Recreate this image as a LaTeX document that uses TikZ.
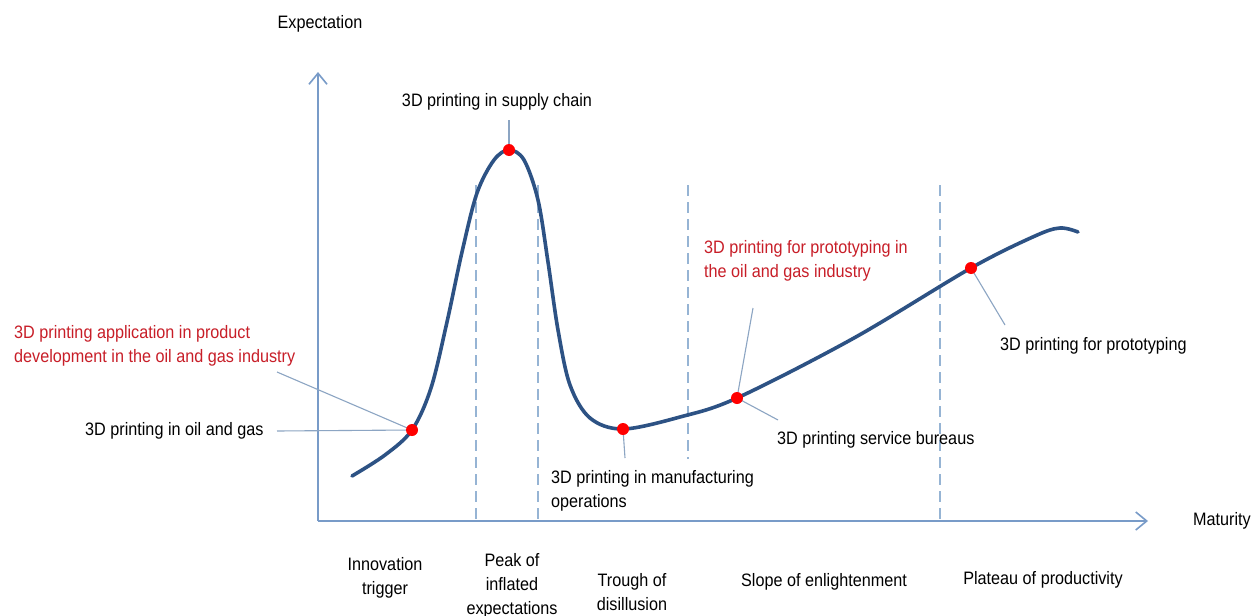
\documentclass[tikz,border=0pt]{standalone}
\usepackage{fontspec}
\setmainfont{Liberation Sans}[FakeStretch=0.9]
\usetikzlibrary{arrows.meta}
\definecolor{axisblue}{RGB}{120,155,200}
\definecolor{dashblue}{RGB}{150,180,212}
\definecolor{curveblue}{RGB}{45,82,132}
\definecolor{leadgray}{RGB}{140,165,195}
\definecolor{labelred}{RGB}{200,30,40}
\definecolor{dotred}{RGB}{255,0,0}
\begin{document}
\begin{tikzpicture}[x=1pt,y=-1pt,
  axisline/.style={draw=axisblue,line width=1.8pt,-{Straight Barb[length=11pt,width=18pt,line width=1.6pt]}},
  phaseline/.style={draw=dashblue,line width=1.6pt,dash pattern=on 11pt off 6pt},
  curveline/.style={draw=curveblue,line width=3.6pt,line cap=round},
  leader/.style={draw=leadgray,line width=1.1pt},
  dotmark/.style={circle,fill=dotred,inner sep=0pt,minimum size=12pt},
  lbl/.style={font=\fontsize{18}{24}\selectfont,text=black,inner sep=0pt},
  redlbl/.style={lbl,text=labelred}]
\useasboundingbox (0,0) rectangle (1251,616);
\fill[white] (0,0) rectangle (1251,616);

% phase separators
\draw[phaseline] (476,185) -- (476,521);
\draw[phaseline] (538,185) -- (538,521);
\draw[phaseline] (688,185) -- (688,459);
\draw[phaseline] (940,185) -- (940,521);

% axes
\coordinate (origin) at (318,521);
\coordinate (ytip) at (318,72);
\coordinate (xtip) at (1148,521);
\draw[axisline] (origin) -- (ytip);
\draw[axisline] (origin) -- (xtip);

% curve points
\coordinate (p1) at (412,430);
\coordinate (p2) at (509,150);
\coordinate (p3) at (623,429);
\coordinate (p4) at (737,398);
\coordinate (p5) at (971,268);

\draw[curveline] plot[smooth,tension=0.55] coordinates {
 (352,476) (385,455) (p1) (431,388) (447,322) (462,252) (477,193) (494,160) (p2)
 (524,160) (538,200) (548,262) (558,330) (570,385) (590,418) (p3)
 (680,417) (p4) (854,338) (p5)
 (1035,236) (1060,228) (1078,232)};

% labels
\node[lbl] (expect) at (320,24) {Expectation};
\node[lbl,anchor=west] (matur) at (1193,521) {Maturity};

\node[lbl] (supply) at (497,102) {3D printing in supply chain};
\node[redlbl,anchor=west,align=left] (appl) at (14,346) {3D printing application in product\\development in the oil and gas industry};
\node[lbl,anchor=west] (oilgas) at (85,431) {3D printing in oil and gas};
\node[lbl,anchor=west,align=left] (manuf) at (551,491) {3D printing in manufacturing\\operations};
\node[redlbl,anchor=west,align=left] (protoog) at (704,261) {3D printing for prototyping in\\the oil and gas industry};
\node[lbl,anchor=west] (bureau) at (777,440) {3D printing service bureaus};
\node[lbl,anchor=west] (proto) at (1000,346) {3D printing for prototyping};

\node[lbl,align=center] (innov) at (385,578) {Innovation\\trigger};
\node[lbl,align=center] (peak) at (512,586) {Peak of\\inflated\\expectations};
\node[lbl,align=center] (trough) at (632,592) {Trough of\\disillusion};
\node[lbl] (slope) at (824,582) {Slope of enlightenment};
\node[lbl] (plateau) at (1043,580) {Plateau of productivity};

% leader line free ends
\coordinate (lApp) at (277,372);
\coordinate (lOil) at (277,431);
\coordinate (lSup) at (509,120);
\coordinate (lMan) at (625,458);
\coordinate (lPog) at (753,308);
\coordinate (lBur) at (778,420);
\coordinate (lPro) at (1005,325);

\draw[leader] (lApp) -- (p1);
\draw[leader] (lOil) -- (p1);
\draw[leader] (lSup) -- (p2);
\draw[leader] (p3) -- (lMan);
\draw[leader] (lPog) -- (p4);
\draw[leader] (p4) -- (lBur);
\draw[leader] (p5) -- (lPro);

% dots
\node[dotmark] (d1) at (p1) {};
\node[dotmark] (d2) at (p2) {};
\node[dotmark] (d3) at (p3) {};
\node[dotmark] (d4) at (p4) {};
\node[dotmark] (d5) at (p5) {};
\end{tikzpicture}
\end{document}
